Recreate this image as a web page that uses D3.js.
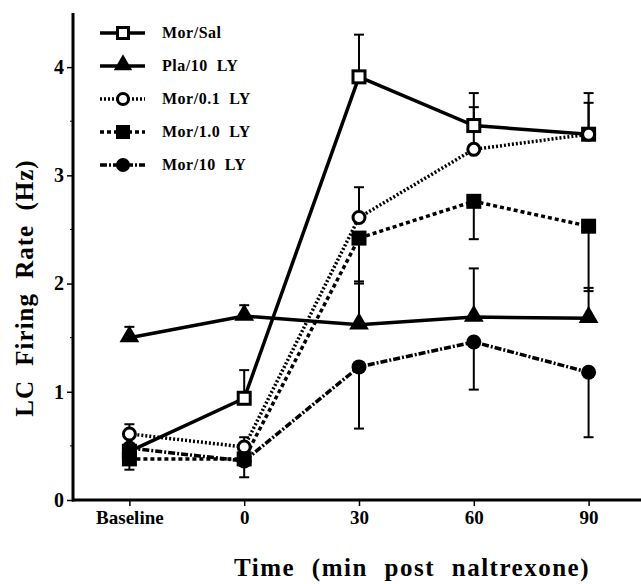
<!DOCTYPE html>
<html>
<head>
<meta charset="utf-8">
<script src="https://cdnjs.cloudflare.com/ajax/libs/d3/7.8.5/d3.min.js"></script>
<style>
  body { margin: 0; background: #fff; }
  text { font-family: "Liberation Serif", "Times New Roman", serif; font-weight: bold; fill: #000; }
</style>
</head>
<body>
<div id="chart"></div>
<script>
let width = 641;
let height = 584;

// data
let timeLabels = ["Baseline", "0", "30", "60", "90"];
let seriesNames = ["Mor/Sal", "Pla/10  LY", "Mor/0.1  LY", "Mor/1.0  LY", "Mor/10  LY"];
let morSal = [0.45, 0.94, 3.91, 3.46, 3.38];
let pla10 = [1.50, 1.70, 1.62, 1.69, 1.68];
let mor01 = [0.61, 0.49, 2.61, 3.24, 3.38];
let mor10 = [0.38, 0.38, 2.42, 2.76, 2.53];
let mor100 = [0.48, 0.36, 1.23, 1.46, 1.18];
// error bars: + goes up, - goes down
let morSalErr = [0, 0.26, 0.39, 0.30, 0.38];
let pla10Err = [0.10, 0.10, 0.40, 0.45, 0.28];
let mor01Err = [0.09, 0.09, 0.28, 0.39, 0.29];
let mor10Err = [-0.10, -0.17, -0.42, -0.35, -0.60];
let mor100Err = [0, 0, -0.57, -0.44, -0.60];
let yTicks = [0, 1, 2, 3, 4];
let yMinor = [0.5, 1.5, 2.5, 3.5];

let series = [
  { name: seriesNames[0], values: morSal, err: morSalErr, marker: "square", fill: "#fff", dash: null },
  { name: seriesNames[1], values: pla10, err: pla10Err, marker: "triangle", fill: "#000", dash: null },
  { name: seriesNames[2], values: mor01, err: mor01Err, marker: "circle", fill: "#fff", dash: "2,2" },
  { name: seriesNames[3], values: mor10, err: mor10Err, marker: "square", fill: "#000", dash: "4,3" },
  { name: seriesNames[4], values: mor100, err: mor100Err, marker: "circle", fill: "#000", dash: "7,2,2,2" }
];

let svg = d3.select("#chart").append("svg")
  .attr("width", width)
  .attr("height", height);

let x = d3.scalePoint()
  .domain(timeLabels)
  .range([72, 646])
  .padding(0.5);

let y = d3.scaleLinear()
  .domain([0, 4.5])
  .range([500, 13]);

// axes
let yAxis = d3.axisLeft(y).tickValues(yTicks).tickSize(6).tickPadding(3).tickFormat(d3.format("d"));
let gy = svg.append("g").attr("transform", "translate(73,0)").call(yAxis);
gy.select(".domain").remove();
gy.selectAll("line").attr("stroke", "#000").attr("stroke-width", 1.5);
gy.selectAll("text").style("font-size", "20px");
svg.append("line")
  .attr("x1", 73).attr("x2", 73)
  .attr("y1", y(4.5)).attr("y2", y(0) + 1.5)
  .attr("stroke", "#000").attr("stroke-width", 3);
svg.selectAll(".minor")
  .data(yMinor)
  .enter().append("line").classed("minor", true)
  .attr("x1", 70).attr("x2", 73)
  .attr("y1", d => y(d)).attr("y2", d => y(d))
  .attr("stroke", "#000").attr("stroke-width", 1);

let xAxis = d3.axisBottom(x).tickSize(6).tickPadding(5);
let gx = svg.append("g").attr("transform", "translate(0,500)").call(xAxis);
gx.select(".domain").remove();
gx.selectAll("line").attr("stroke", "#000").attr("stroke-width", 1.5);
gx.selectAll("text").style("font-size", "19px");
svg.append("line")
  .attr("x1", 72).attr("x2", width)
  .attr("y1", 500).attr("y2", 500)
  .attr("stroke", "#000").attr("stroke-width", 3);

// axis titles
svg.append("text")
  .attr("x", 412).attr("y", 576)
  .attr("text-anchor", "middle")
  .style("font-size", "25px")
  .style("letter-spacing", "1.5px")
  .style("word-spacing", "9px")
  .text("Time (min post naltrexone)");

svg.append("text")
  .attr("transform", "translate(33,288) rotate(-90)")
  .attr("text-anchor", "middle")
  .style("font-size", "25px")
  .style("letter-spacing", "1px")
  .style("word-spacing", "7px")
  .text("LC Firing Rate (Hz)");

function drawMarker(g, s, cx, cy, size) {
  if (s.marker === "square") {
    let w = s.fill === "#fff" ? size - 3 : size;
    g.append("rect")
      .attr("x", cx - w / 2).attr("y", cy - w / 2)
      .attr("width", w).attr("height", w)
      .attr("fill", s.fill).attr("stroke", "#000")
      .attr("stroke-width", s.fill === "#fff" ? 3 : 0);
  } else if (s.marker === "circle") {
    let r = s.fill === "#fff" ? size / 2 - 1.5 : size / 2;
    g.append("circle")
      .attr("cx", cx).attr("cy", cy).attr("r", r)
      .attr("fill", s.fill).attr("stroke", "#000")
      .attr("stroke-width", s.fill === "#fff" ? 3 : 0);
  } else {
    g.append("path")
      .attr("d", d3.symbol().type(d3.symbolTriangle).size(size * size * 0.75)())
      .attr("transform", "translate(" + cx + "," + (cy - 1) + ")")
      .attr("fill", "#000");
  }
}

let line = d3.line()
  .x((d, i) => x(timeLabels[i]))
  .y(d => y(d));

// error bars first
series.forEach(s => {
  s.values.forEach((v, i) => {
    if (!s.err[i]) return;
    let cx = x(timeLabels[i]);
    let end = y(v + s.err[i]);
    svg.append("line")
      .attr("x1", cx).attr("x2", cx)
      .attr("y1", y(v)).attr("y2", end)
      .attr("stroke", "#000").attr("stroke-width", 2);
    svg.append("line")
      .attr("x1", cx - 5).attr("x2", cx + 5)
      .attr("y1", end).attr("y2", end)
      .attr("stroke", "#000").attr("stroke-width", 2);
  });
});

// lines
series.forEach(s => {
  svg.append("path")
    .datum(s.values)
    .attr("d", line)
    .attr("fill", "none")
    .attr("stroke", "#000")
    .attr("stroke-width", 3.5)
    .attr("stroke-dasharray", s.dash);
});

// markers
series.forEach(s => {
  let g = svg.append("g");
  s.values.forEach((v, i) => drawMarker(g, s, x(timeLabels[i]), y(v), 15));
});

// legend
let legend = svg.append("g");
series.forEach((s, i) => {
  let ly = 33 + i * 33;
  legend.append("line")
    .attr("x1", 100).attr("x2", 145)
    .attr("y1", ly).attr("y2", ly)
    .attr("stroke", "#000").attr("stroke-width", 3.5)
    .attr("stroke-dasharray", s.dash);
  drawMarker(legend, s, 123, ly, 14);
  legend.append("text")
    .attr("x", 162).attr("y", ly + 5)
    .style("font-size", "16px")
    .style("white-space", "pre")
    .style("letter-spacing", "0.5px")
    .text(s.name);
});
</script>
</body>
</html>
